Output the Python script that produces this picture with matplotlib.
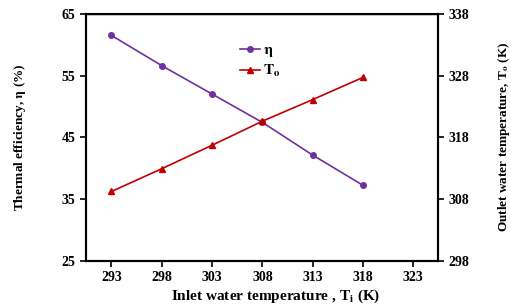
import numpy as np
import matplotlib.pyplot as plt

plt.rcParams['font.family'] = ['Liberation Serif', 'DejaVu Serif']
plt.rcParams['mathtext.fontset'] = 'stix'
plt.rcParams['font.weight'] = 'bold'

# data
t_in = [293, 298, 303, 308, 313, 318]
eta = [61.5, 56.6, 52.0, 47.4, 42.1, 37.2]
t_out = [309.2, 312.9, 316.7, 320.6, 324.1, 327.7]
x_ticks = [293, 298, 303, 308, 313, 318, 323]
left_ticks = [25, 35, 45, 55, 65]
right_ticks = [298, 308, 318, 328, 338]

purple = '#7030A0'
red = '#C00000'

fig = plt.figure(figsize=(5.11, 3.08), dpi=100)
ax = fig.add_axes([0.168, 0.154, 0.689, 0.801])
ax2 = ax.twinx()

l1, = ax.plot(t_in, eta, color=purple, marker='o', markersize=4, lw=1.2, label=r'$\mathbf{\eta}$')
l2, = ax2.plot(t_in, t_out, color=red, marker='^', markersize=4.5, lw=1.2, label=r'$\mathbf{T_o}$')

ax.set_xlim(290.45, 325.45)
ax.set_ylim(25, 65)
ax2.set_ylim(298, 338)
ax.set_xticks(x_ticks)
ax.set_yticks(left_ticks)
ax2.set_yticks(right_ticks)

for a in (ax, ax2):
    for s in a.spines.values():
        s.set_linewidth(1.5)
    a.tick_params(direction='out', width=1.2, length=4, labelsize=10)
    for lab in a.get_xticklabels() + a.get_yticklabels():
        lab.set_fontweight('bold')
ax.spines['top'].set_linewidth(1.0)

ax.set_xlabel(r'Inlet water temperature , T$_\mathbf{i}$ (K)', fontsize=11, fontweight='bold')
ax.xaxis.set_label_coords(0.54, -0.11)
ax.set_ylabel(r'Thermal efficiency, $\mathbf{\eta}$ (%)', fontsize=9.5, fontweight='bold', labelpad=24)
ax2.set_ylabel(r'Outlet water temperature, T$_\mathbf{o}$ (K)', fontsize=9.5, fontweight='bold', labelpad=19)

leg = ax.legend(handles=[l1, l2], loc='upper left', bbox_to_anchor=(0.40, 0.935), frameon=False,
                handlelength=1.3, handletextpad=0.2, labelspacing=0.25, fontsize=11)

fig.savefig('out.png', dpi=100)
